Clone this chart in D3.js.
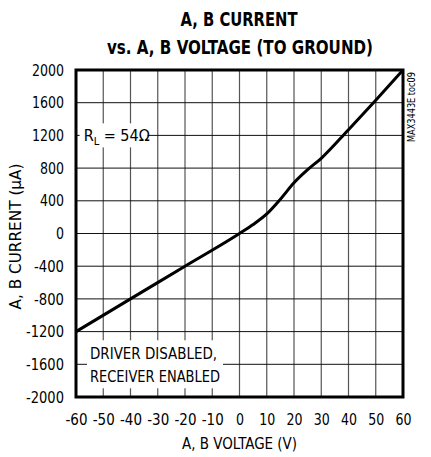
<!DOCTYPE html>
<html>
<head>
<meta charset="utf-8">
<script src="https://cdn.jsdelivr.net/npm/d3@7"></script>
<style>
	body { margin: 0; background: #fff; }
	svg text { font-family: "DejaVu Sans Condensed", "Liberation Sans Narrow", "Arial Narrow", sans-serif; font-stretch: condensed; }
</style>
</head>
<body>
<svg id="chart" width="431" height="457"></svg>
<script>
// values
const voltage = [-60, -40, -20, 0, 5, 10, 15, 20, 25, 30, 40, 50, 60];
const current = [-1200, -800, -400, 0, 110, 240, 420, 620, 780, 920, 1270, 1630, 2000];
const xTicks = [-60, -50, -40, -30, -20, -10, 0, 10, 20, 30, 40, 50, 60];
const yTicks = [-2000, -1600, -1200, -800, -400, 0, 400, 800, 1200, 1600, 2000];

const svg = d3.select("#chart");
const margin = { top: 70, left: 76, right: 28, bottom: 60 };
const width = 431 - margin.left - margin.right,
	height = 457 - margin.top - margin.bottom;

const x = d3.scaleLinear().domain([-60, 60]).range([0, width]);
const y = d3.scaleLinear().domain([-2000, 2000]).range([height, 0]);

// title
const title = svg.append("text")
	.attr("text-anchor", "middle")
	.style("font-weight", "bold")
	.style("font-size", "20px");
title.append("tspan").attr("x", 239).attr("y", 26)
	.attr("textLength", 117).attr("lengthAdjust", "spacingAndGlyphs")
	.text("A, B CURRENT");
title.append("tspan").attr("x", 240).attr("y", 54)
	.attr("textLength", 266).attr("lengthAdjust", "spacingAndGlyphs")
	.text("vs. A, B VOLTAGE (TO GROUND)");

const g = svg.append("g")
	.attr("transform", "translate(" + margin.left + "," + margin.top + ")");

// grid
g.append("g").selectAll("line")
	.data(xTicks)
	.enter().append("line")
	.attr("x1", d => x(d)).attr("x2", d => x(d))
	.attr("y1", 0).attr("y2", height)
	.style("stroke", "#555")
	.style("stroke-width", 1.2);

g.append("g").selectAll("line")
	.data(yTicks)
	.enter().append("line")
	.attr("x1", 0).attr("x2", width)
	.attr("y1", d => y(d)).attr("y2", d => y(d))
	.style("stroke", "#111")
	.style("stroke-width", 1);

// axes (labels only)
const xAxis = g.append("g")
	.attr("transform", "translate(0," + height + ")")
	.call(d3.axisBottom(x).tickValues(xTicks).tickFormat(d => String(d)).tickSize(0).tickPadding(17));
const yAxis = g.append("g")
	.call(d3.axisLeft(y).tickValues(yTicks).tickFormat(d => String(d)).tickSize(0).tickPadding(12));
[xAxis, yAxis].forEach(a => {
	a.select(".domain").remove();
	a.selectAll("text")
		.style("font-size", "16px")
		.style("font-family", null)
		.attr("fill", "#000");
});
xAxis.selectAll("text").attr("textLength", d => String(d).length * 8 - (d < 0 ? 2 : 0)).attr("lengthAdjust", "spacingAndGlyphs");
yAxis.selectAll("text").attr("textLength", d => String(d).length * 8 - (d < 0 ? 2 : 0)).attr("lengthAdjust", "spacingAndGlyphs");

// labels inside the plot, white boxes over the grid
const rl = g.append("g").attr("transform", "translate(" + (x(-55) - 10) + "," + y(1200) + ")");
rl.append("rect")
	.attr("x", 0).attr("y", -12).attr("width", 68).attr("height", 24)
	.style("fill", "#fff");
const rlText = rl.append("text")
	.attr("x", 4).attr("y", 6)
	.style("font-size", "16px");
rlText.append("tspan").text("R");
rlText.append("tspan").attr("dy", 4).style("font-size", "11px").text("L");
rlText.append("tspan").attr("dy", -4).text(" = 54Ω");

const drv = g.append("g").attr("transform", "translate(" + (x(-60) + 11) + "," + y(-1600) + ")");
drv.append("rect")
	.attr("x", 0).attr("y", -24).attr("width", 136).attr("height", 48)
	.style("fill", "#fff");
drv.append("text").attr("x", 3).attr("y", -5).style("font-size", "16px")
	.attr("textLength", 127).attr("lengthAdjust", "spacingAndGlyphs").text("DRIVER DISABLED,");
drv.append("text").attr("x", 3).attr("y", 18).style("font-size", "16px")
	.attr("textLength", 130).attr("lengthAdjust", "spacingAndGlyphs").text("RECEIVER ENABLED");

// curve
const pts = voltage.map((v, i) => [v, current[i]]);
g.append("path")
	.datum(pts)
	.attr("d", d3.line().x(d => x(d[0])).y(d => y(d[1])).curve(d3.curveMonotoneX))
	.style("fill", "none")
	.style("stroke", "#000")
	.style("stroke-width", 3);

// frame
g.append("rect")
	.attr("width", width).attr("height", height)
	.style("fill", "none")
	.style("stroke", "#000")
	.style("stroke-width", 3);

// axis titles
svg.append("text")
	.attr("x", margin.left + width / 2)
	.attr("y", 449)
	.attr("text-anchor", "middle")
	.attr("textLength", 115).attr("lengthAdjust", "spacingAndGlyphs")
	.style("font-size", "16px")
	.text("A, B VOLTAGE (V)");

svg.append("text")
	.attr("transform", "translate(21," + (margin.top + height / 2 + 3) + ") rotate(-90)")
	.attr("text-anchor", "middle")
	.attr("textLength", 146).attr("lengthAdjust", "spacingAndGlyphs")
	.style("font-size", "16px")
	.text("A, B CURRENT (µA)");

svg.append("text")
	.attr("transform", "translate(" + (margin.left + width + 12) + "," + (margin.top + 2) + ") rotate(-90)")
	.attr("text-anchor", "end")
	.attr("textLength", 70).attr("lengthAdjust", "spacingAndGlyphs")
	.style("font-size", "10px")
	.text("MAX3443E toc09");
</script>
</body>
</html>
